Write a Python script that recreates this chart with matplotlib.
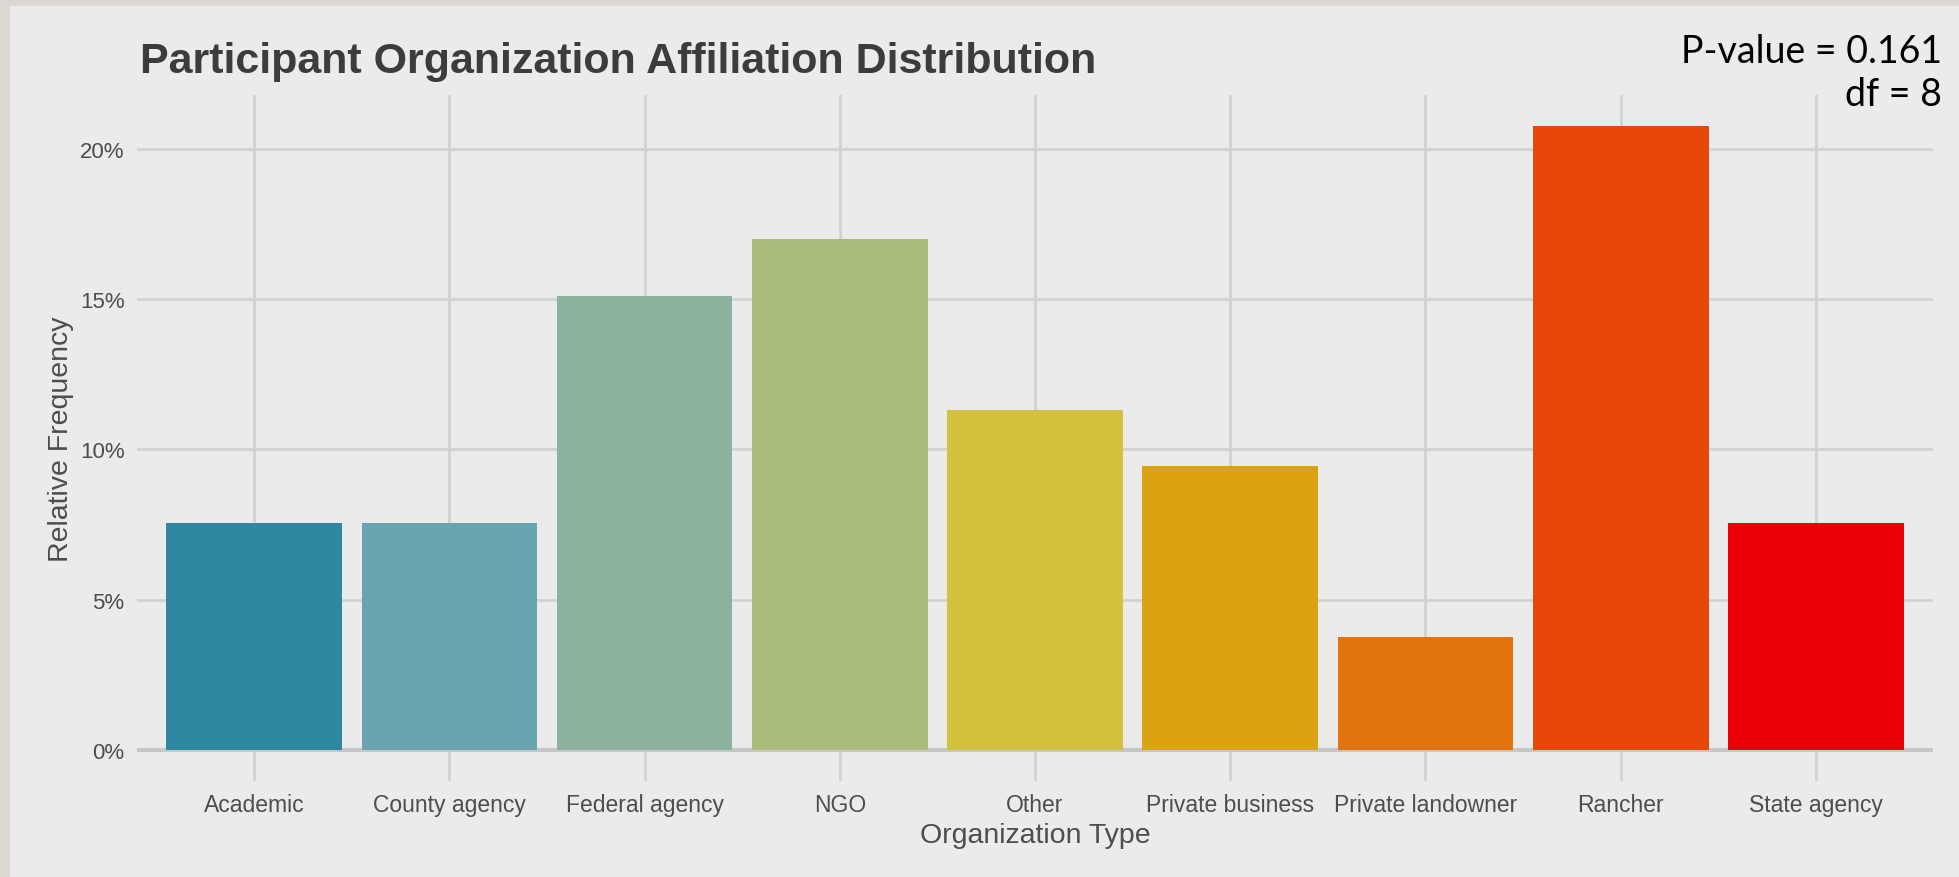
import matplotlib
matplotlib.use("Agg")
import matplotlib.pyplot as plt
from matplotlib.patches import Rectangle
from matplotlib.ticker import FuncFormatter

categories = ["Academic", "County agency", "Federal agency", "NGO", "Other",
              "Private business", "Private landowner", "Rancher", "State agency"]
values = [7.55, 7.55, 15.09, 16.98, 11.32, 9.43, 3.77, 20.75, 7.55]
colors = ["#2E88A2", "#68A5B0", "#8BB29C", "#AABC7A", "#D4C23E",
          "#DBA311", "#E1740D", "#E8470A", "#EB000A"]
yticks = [0, 5, 10, 15, 20]
title = "Participant Organization Affiliation Distribution"
stat_lines = ["P-value = 0.161", "df = 8"]

W, H = 1959, 878
bg = "#EBEBEB"
fig = plt.figure(figsize=(W / 100, H / 100), dpi=100, facecolor=bg)

# outer frame strips (top and left)
fig.patches.append(Rectangle((0, 1 - 7 / H), 1, 7 / H, transform=fig.transFigure,
                             facecolor="#DCD9D4", edgecolor="none", zorder=0))
fig.patches.append(Rectangle((0, 0), 10 / W, 1, transform=fig.transFigure,
                             facecolor="#DCD9D4", edgecolor="none", zorder=0))

left, right, top, bottom = 137 / W, 1933 / W, 1 - 96 / H, 1 - 782 / H
ax = fig.add_axes([left, bottom, right - left, top - bottom])
ax.set_facecolor(bg)

x = list(range(len(categories)))
ax.bar(x, values, width=0.9, color=colors, zorder=3)

ymax = max(values)
ax.set_xlim(-0.6, len(categories) - 1 + 0.6)
ax.set_ylim(-0.05 * ymax, 1.05 * ymax)
ax.set_xticks(x)
ax.set_xticklabels(categories)
ax.set_yticks(yticks)
ax.yaxis.set_major_formatter(FuncFormatter(lambda v, p: f"{v:.0f}%"))

ax.grid(True, color="#D2D2D2", linewidth=2.0, zorder=1)
ax.axhline(0, color="#C6C6C6", linewidth=3.0, zorder=2)
for s in ax.spines.values():
    s.set_visible(False)

lab_font = "Liberation Sans"
ax.tick_params(axis="both", length=0, colors="#4D4D4D")
ax.tick_params(axis="x", pad=9)
ax.tick_params(axis="y", pad=9)
for lab in ax.get_xticklabels():
    lab.set_fontfamily(lab_font)
    lab.set_fontsize(16.5)
    lab.set_color("#4D4D4D")
for lab in ax.get_yticklabels():
    lab.set_fontfamily(lab_font)
    lab.set_fontsize(16)
    lab.set_color("#4D4D4D")

ax.set_xlabel("Organization Type", fontfamily=lab_font, fontsize=20.5,
              color="#4D4D4D", labelpad=4)
ax.set_ylabel("Relative Frequency", fontfamily=lab_font, fontsize=20.5,
              color="#4D4D4D", labelpad=4)

fig.text(140 / W, 1 - 73 / H, title, fontfamily=lab_font, fontweight="bold",
         fontsize=31, color="#3C3C3C", ha="left", va="baseline")

fig.text(1942 / W, 1 - 63 / H, stat_lines[0], fontfamily="Lato", fontsize=27,
         color="black", ha="right", va="baseline")
fig.text(1942 / W, 1 - 106 / H, stat_lines[1], fontfamily="Lato", fontsize=27,
         color="black", ha="right", va="baseline")

fig.savefig("out.png", dpi=100, facecolor=bg)
